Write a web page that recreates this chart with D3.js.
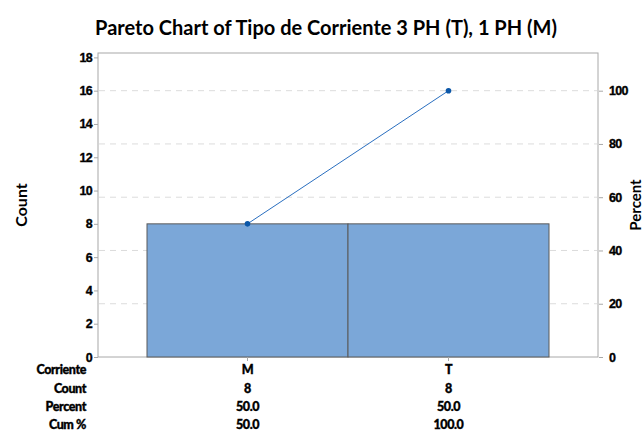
<!DOCTYPE html>
<html>
<head>
<meta charset="utf-8">
<script src="https://cdn.jsdelivr.net/npm/d3@7"></script>
<style>
  html, body { margin: 0; padding: 0; background: #fff; }
  svg { display: block; font-family: Lato, "Open Sans", sans-serif; }
</style>
</head>
<body>
<svg id="chart" width="644" height="431"></svg>
<script>
const title = "Pareto Chart of Tipo de Corriente 3 PH (T), 1 PH (M)";
const categories = ["M", "T"];
const counts = [8, 8];
const countTicks = [0, 2, 4, 6, 8, 10, 12, 14, 16, 18];
const percentTicks = [0, 20, 40, 60, 80, 100];
const rowLabels = ["Corriente", "Count", "Percent", "Cum %"];

const total = d3.sum(counts);
const percents = counts.map(c => c / total * 100);
const cumPercents = Array.from(d3.cumsum(percents));

const svg = d3.select("#chart");
const frame = { left: 98, right: 598, top: 53, bottom: 357 };

const x = d3.scaleBand()
  .domain(categories)
  .range([frame.left + 49, frame.right - 49])
  .paddingInner(0).paddingOuter(0);

const y = d3.scaleLinear().domain([0, 18]).range([357, 57.4]);
// percent axis runs 0..100 over 0..total counts
const yp = d3.scaleLinear().domain([0, 100]).range([y(0), y(total)]);

// dashed gridlines at percent ticks
svg.append("g").selectAll("line")
  .data(percentTicks.filter(t => t > 0))
  .join("line")
  .attr("x1", frame.left + 1).attr("x2", frame.right - 1)
  .attr("y1", d => yp(d)).attr("y2", d => yp(d))
  .attr("stroke", "#dcdcdc").attr("stroke-width", 1)
  .attr("stroke-dasharray", "6,5");

// frame
svg.append("rect")
  .attr("x", frame.left).attr("y", frame.top)
  .attr("width", frame.right - frame.left).attr("height", frame.bottom - frame.top)
  .attr("fill", "none").attr("stroke", "#a8a8a8").attr("stroke-width", 1);

// bars
svg.append("g").selectAll("rect")
  .data(categories)
  .join("rect")
  .attr("x", d => x(d))
  .attr("y", (d, i) => y(counts[i]))
  .attr("width", x.bandwidth())
  .attr("height", (d, i) => y(0) - y(counts[i]))
  .attr("fill", "#7ba7d8")
  .attr("stroke", "#5a5a5a").attr("stroke-width", 1);

// cumulative percent line
const cx = d => x(d) + x.bandwidth() / 2;
const line = d3.line().x((d, i) => cx(categories[i])).y(d => yp(d));
svg.append("path")
  .datum(cumPercents)
  .attr("d", line)
  .attr("fill", "none").attr("stroke", "#2a6fc0").attr("stroke-width", 1);
svg.append("g").selectAll("circle")
  .data(cumPercents)
  .join("circle")
  .attr("cx", (d, i) => cx(categories[i]))
  .attr("cy", d => yp(d))
  .attr("r", 2.8)
  .attr("fill", "#0b57a8");

// left axis
const leftAxis = d3.axisLeft(y).tickValues(countTicks).tickSize(4).tickPadding(2);
const gl = svg.append("g").attr("transform", `translate(${frame.left},0)`).call(leftAxis);
// right axis
const rightAxis = d3.axisRight(yp).tickValues(percentTicks).tickSize(4).tickPadding(6);
const gr = svg.append("g").attr("transform", `translate(${frame.right + 1},0)`).call(rightAxis);
// bottom ticks
const bottomAxis = d3.axisBottom(x).tickSize(4).tickFormat("");
const gb = svg.append("g").attr("transform", `translate(0,${frame.bottom})`).call(bottomAxis);

[gl, gr, gb].forEach(g => {
  g.select(".domain").remove();
  g.selectAll(".tick line").attr("stroke", "#a8a8a8");
  g.selectAll("text")
    .attr("font-size", 12.5).attr("font-weight", 900).attr("fill", "#000")
    .attr("stroke", "#000").attr("stroke-width", 0.35)
    .attr("letter-spacing", "-0.7");
});

// title
svg.append("text")
  .attr("x", 326).attr("y", 35)
  .attr("text-anchor", "middle")
  .attr("font-size", 20).attr("font-weight", 700)
  .attr("fill", "#000")
  .text(title);

// axis titles
svg.append("text")
  .attr("transform", "translate(27,205) rotate(-90)")
  .attr("text-anchor", "middle")
  .attr("font-size", 16).attr("font-weight", 700)
  .text("Count");
svg.append("text")
  .attr("transform", "translate(641,205) rotate(-90)")
  .attr("text-anchor", "middle")
  .attr("font-size", 15).attr("font-weight", 700)
  .text("Percent");

// summary table below the chart
const rowY = [374, 393, 411, 429];
const rows = [
  categories,
  counts.map(String),
  percents.map(d => d.toFixed(1)),
  cumPercents.map(d => d.toFixed(1))
];
const table = svg.append("g")
  .attr("font-size", 12.5).attr("font-weight", 900)
  .attr("stroke", "#000").attr("stroke-width", 0.35)
  .attr("letter-spacing", "-0.4");
rowLabels.forEach((lab, r) => {
  table.append("text")
    .attr("x", 86).attr("y", rowY[r])
    .attr("text-anchor", "end")
    .text(lab);
  table.selectAll(null)
    .data(rows[r])
    .join("text")
    .attr("x", (d, i) => cx(categories[i]))
    .attr("y", rowY[r])
    .attr("text-anchor", "middle")
    .text(d => d);
});
</script>
</body>
</html>
